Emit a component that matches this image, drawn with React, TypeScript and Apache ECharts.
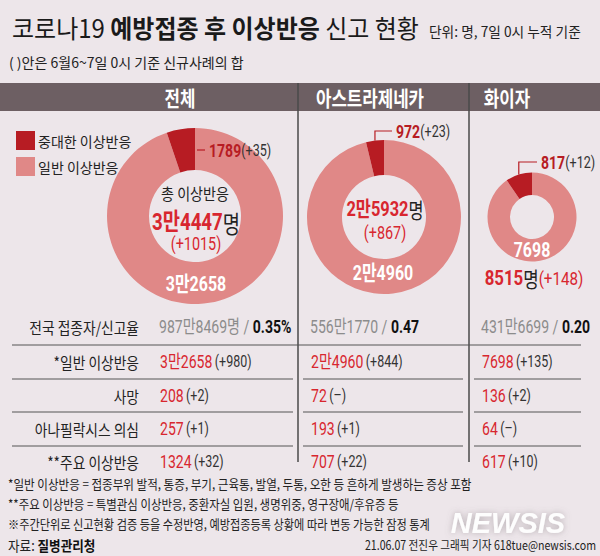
import React, { useEffect, useRef } from "react";
import * as echarts from "echarts";

// ---------- data ----------
const vaccines = ["전체", "아스트라제네카", "화이자"];
const seriousCounts = [1789, 972, 817];
const seriousNew = [35, 23, 12];
const generalCounts = [32658, 24960, 7698];
const generalNew = [980, 844, 135];
const totalCounts = [34447, 25932, 8515];
const totalNew = [1015, 867, 148];
const vaccinated = ["987만8469명", "556만1770", "431만6699"];
const reportRates = ["0.35%", "0.47", "0.20"];
const deaths = [208, 72, 136];
const deathsNew = ["+2", "–", "+2"];
const anaphylaxis = [257, 193, 64];
const anaphylaxisNew = ["+1", "+1", "–"];
const majorReactions = [1324, 707, 617];
const majorNew = ["+32", "+22", "+10"];
const rowLabels = ["전국 접종자/신고율", "*일반 이상반응", "사망", "아나필락시스 의심", "**주요 이상반응"];
const legendNames = ["중대한 이상반응", "일반 이상반응"];
const footnotes = [
  "*일반 이상반응 = 접종부위 발적, 통증, 부기, 근육통, 발열, 두통, 오한 등 흔하게 발생하는 증상 포함",
  "**주요 이상반응 = 특별관심 이상반응, 중환자실 입원, 생명위중, 영구장애/후유증 등",
  "※주간단위로 신고현황 검증 등을 수정반영, 예방접종등록 상황에 따라 변동 가능한 잠정 통계",
];

// ---------- style ----------
const BG = "#ede6ea";
const DARK = "#b71c23";
const LIGHT = "#e08887";
const RED = "#d8262f";
const KR = "'Noto Sans CJK KR', sans-serif";
const NUM = "Roboto, 'Noto Sans CJK KR', sans-serif";

const kr = (n: number) => (n >= 10000 ? `${Math.floor(n / 10000)}만${n % 10000}` : `${n}`);

function txt(x: number, y: number, text: string, o: any = {}) {
  return {
    type: "text",
    x,
    y,
    scaleX: o.sx ?? 1,
    silent: true,
    z: o.z ?? 10,
    style: {
      text,
      fontSize: o.fs ?? 14,
      fontFamily: o.ff ?? KR,
      fontWeight: o.fw ?? "normal",
      fill: o.fill ?? "#222",
      align: o.align ?? "left",
      verticalAlign: "middle",
      rich: o.rich,
    },
  };
}

function line(x1: number, y1: number, x2: number, y2: number, color = "#555", w = 1) {
  return { type: "line", silent: true, z: 5, shape: { x1, y1, x2, y2 }, style: { stroke: color, lineWidth: w } };
}

const donuts = [
  { c: [195, 216], r: [46, 88] },
  { c: [384, 217], r: [42, 77] },
  { c: [532, 217], r: [22, 44.5] },
];

function buildOption() {
  const g: any[] = [];
  // header bar
  g.push({ type: "rect", silent: true, z: 1, shape: { x: 0, y: 83, width: 600, height: 28 }, style: { fill: "#6d5f63" } });
  const headX = [180, 370, 507];
  vaccines.forEach((v, i) => g.push(txt(headX[i], 97, v, { fs: 21, fw: "bold", fill: "#fff", align: "center", sx: 0.8 })));
  // dividers
  g.push(line(298, 83, 298, 462, "#4a4a4a", 1.5));
  g.push(line(469, 83, 469, 462, "#4a4a4a", 1.5));

  // title
  g.push(
    txt(12, 27, "{a|코로나19 }{b|예방접종 후 이상반응}{a| 신고 현황}", {
      sx: 0.96,
      rich: {
        a: { fontSize: 25, fontFamily: KR, fill: "#1a1a1a" },
        b: { fontSize: 25, fontFamily: KR, fontWeight: "bold", fill: "#1a1a1a" },
      },
    })
  );
  g.push(txt(429, 31, "단위: 명, 7일 0시 누적 기준", { fs: 14, sx: 0.98, fill: "#222" }));
  g.push(txt(9, 62, "( )안은 6월6~7일 0시 기준 신규사례의 합", { fs: 14, sx: 1.0, fill: "#222" }));

  // donut center texts
  const numRich = (big: number, small: number) => ({
    r: { fontSize: big, fontFamily: NUM, fontWeight: "bold", fill: RED },
    k: { fontSize: big, fontFamily: KR, fill: "#222" },
    p: { fontSize: small, fontFamily: NUM, fill: "#333" },
    pr: { fontSize: small, fontFamily: NUM, fill: RED },
  });
  // 전체
  g.push(txt(195, 193, "총 이상반응", { fs: 16, align: "center", sx: 0.88, fill: "#222" }));
  g.push(txt(196, 222, `{r|${kr(totalCounts[0])}}{k|명}`, { align: "center", sx: 0.78, rich: numRich(24, 18) }));
  g.push(txt(196, 244, `(+${totalNew[0]})`, { fs: 18, ff: NUM, fill: RED, align: "center", sx: 0.8 }));
  g.push(txt(196, 284, kr(generalCounts[0]), { fs: 21, ff: NUM, fw: "bold", fill: "#fff", align: "center", sx: 0.76 }));
  // AZ
  g.push(txt(385, 209, `{r|${kr(totalCounts[1])}}{k|명}`, { align: "center", sx: 0.78, rich: numRich(21, 18) }));
  g.push(txt(385, 233, `(+${totalNew[1]})`, { fs: 18, ff: NUM, fill: RED, align: "center", sx: 0.8 }));
  g.push(txt(383, 273, kr(generalCounts[1]), { fs: 21, ff: NUM, fw: "bold", fill: "#fff", align: "center", sx: 0.76 }));
  // Pfizer
  g.push(txt(532, 250, kr(generalCounts[2]), { fs: 21, ff: NUM, fw: "bold", fill: "#fff", align: "center", sx: 0.76 }));
  g.push(
    txt(534, 278, `{r|${kr(totalCounts[2])}}{k|명}{pr|(+${totalNew[2]})}`, { align: "center", sx: 0.8, rich: numRich(21, 19) })
  );

  // serious labels with leader lines
  const labelRich = {
    r: { fontSize: 19, fontFamily: NUM, fontWeight: "bold", fill: DARK },
    p: { fontSize: 17, fontFamily: NUM, fill: "#333" },
  };
  g.push(line(197, 150, 205, 150, DARK, 1.2));
  g.push(txt(209, 150, `{r|${seriousCounts[0]}}{p|(+${seriousNew[0]})}`, { sx: 0.74, rich: labelRich }));
  [1, 2].forEach((i) => {
    const d = donuts[i];
    const half = (Math.PI * seriousCounts[i]) / totalCounts[i];
    const px = d.c[0] - d.r[1] * Math.sin(half);
    const py = d.c[1] - d.r[1] * Math.cos(half);
    const ly = i === 1 ? 131 : 162;
    const lx = i === 1 ? 392 : 537;
    g.push({ type: "polyline", silent: true, z: 6, shape: { points: [[px, py], [px, ly], [lx, ly]] }, style: { stroke: DARK, lineWidth: 1.2, fill: null } });
    g.push(txt(lx + 4, ly, `{r|${seriousCounts[i]}}{p|(+${seriousNew[i]})}`, { sx: 0.74, rich: labelRich }));
  });

  // table
  const rowY = [327, 362, 396, 429, 462];
  const lineY = [345, 379, 412, 446];
  const colX = [160, 311, 482];
  rowLabels.forEach((l, r) => g.push(txt(139, rowY[r], l, { fs: 16, align: "right", sx: 0.86, fill: "#222" })));
  const tRich = {
    g: { fontSize: 18, fontFamily: NUM, fill: "#8c8c8c" },
    b: { fontSize: 18, fontFamily: NUM, fontWeight: "bold", fill: "#111" },
    r: { fontSize: 18, fontFamily: NUM, fill: RED },
    p: { fontSize: 16, fontFamily: NUM, fill: "#333" },
  };
  const rows: [string[], string[]][] = [
    [generalCounts.map(kr), generalNew.map((v) => `+${v}`)],
    [deaths.map(String), deathsNew],
    [anaphylaxis.map(String), anaphylaxisNew],
    [majorReactions.map(String), majorNew],
  ];
  for (let c = 0; c < 3; c++) {
    g.push(txt(colX[c] - 1, rowY[0], `{g|${vaccinated[c]} / }{b|${reportRates[c]}}`, { sx: 0.78, rich: tRich }));
    rows.forEach(([vals, news], k) => {
      g.push(txt(colX[c], rowY[k + 1], `{r|${vals[c]}} {p|(${news[c]})}`, { sx: 0.78, rich: tRich }));
    });
  }
  g.push(line(12, lineY[0], 581, lineY[0]));
  const segs = [[12, 293], [303, 463], [474, 581]];
  for (let k = 1; k < 4; k++) segs.forEach(([a, b]) => g.push(line(a, lineY[k], b, lineY[k])));

  // footnotes
  const fy = [484, 504, 523];
  const fsx = [0.89, 0.88, 0.86];
  footnotes.forEach((f, i) => g.push(txt(8, fy[i], f, { fs: 13, sx: fsx[i], fill: "#222" })));
  g.push(
    txt(8, 545, "{a|자료: }{b|질병관리청}", {
      sx: 0.9,
      rich: { a: { fontSize: 14, fontFamily: KR, fill: "#222" }, b: { fontSize: 14, fontFamily: KR, fontWeight: "bold", fill: "#111" } },
    })
  );
  // watermark
  g.push({
    type: "text",
    x: 508,
    y: 523,
    silent: true,
    z: 3,
    style: {
      text: "NEWSIS",
      fontSize: 29,
      fontFamily: "'Liberation Sans', Arial, sans-serif",
      fontWeight: "bold",
      fontStyle: "italic",
      fill: "#ffffff",
      opacity: 0.95,
      align: "center",
      verticalAlign: "middle",
      textShadowColor: "rgba(120,110,115,0.5)",
      textShadowBlur: 6,
    },
  });
  g.push(txt(596, 545, "21.06.07 전진우 그래픽 기자 618tue@newsis.com", { fs: 12.5, align: "right", sx: 0.85, fill: "#222", z: 12 }));

  const series = donuts.map((d, i) => ({
    type: "pie",
    center: d.c,
    radius: d.r,
    startAngle: 90,
    clockwise: true,
    silent: true,
    label: { show: false },
    labelLine: { show: false },
    emphasis: { disabled: true },
    itemStyle: { borderWidth: 0 },
    data: [
      { name: legendNames[1], value: generalCounts[i], itemStyle: { color: LIGHT } },
      { name: legendNames[0], value: seriousCounts[i], itemStyle: { color: DARK } },
    ],
  }));

  return {
    animation: false,
    backgroundColor: BG,
    color: [LIGHT, DARK],
    legend: {
      data: legendNames,
      orient: "vertical",
      left: 11,
      top: 126,
      itemWidth: 19,
      itemHeight: 19,
      itemGap: 7,
      icon: "rect",
      selectedMode: false,
      textStyle: { fontSize: 14, fontFamily: KR, color: "#222", padding: [0, 0, 0, -2] },
    },
    series,
    graphic: { elements: g },
  };
}

export default function App() {
  const ref = useRef<HTMLDivElement>(null);
  useEffect(() => {
    if (!ref.current) return;
    const chart = echarts.init(ref.current, null, { renderer: "svg" });
    chart.setOption(buildOption() as any);
    return () => chart.dispose();
  }, []);
  return <div ref={ref} style={{ position: "fixed", left: 0, top: 0, width: 600, height: 556, background: BG }} />;
}
